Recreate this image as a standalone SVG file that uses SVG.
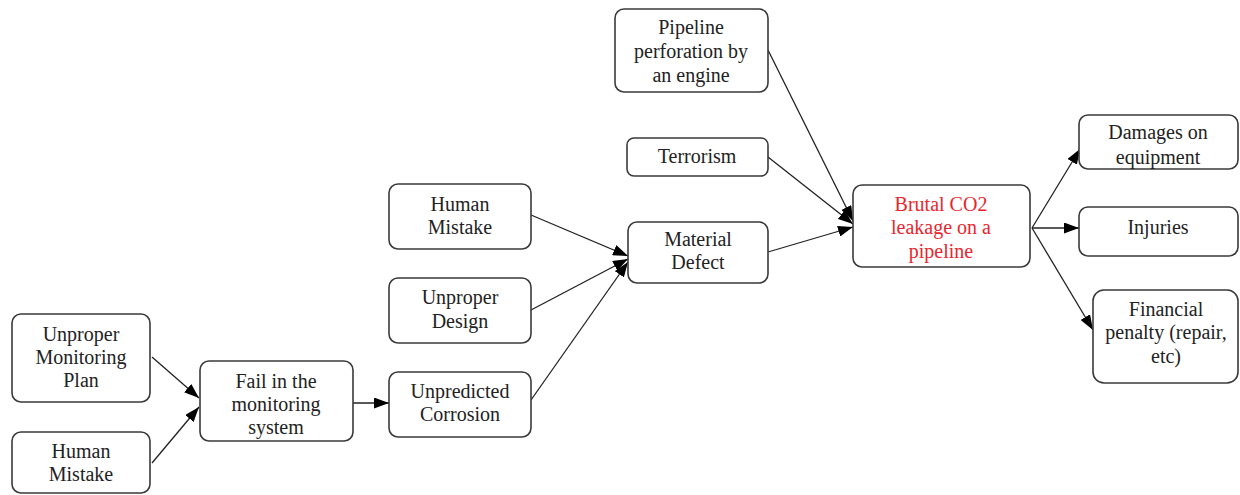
<svg xmlns="http://www.w3.org/2000/svg" width="1240" height="495" viewBox="0 0 1240 495">
<style>
.box{fill:#fff;stroke:#3a3a3a;stroke-width:1.6}
.t{font-family:"Liberation Serif","Times New Roman",serif;font-size:20px;fill:#222;text-anchor:middle}
.red{fill:#e8262e}
.c{stroke:#222;stroke-width:1.3;fill:none;marker-end:url(#ah)}
</style>
<defs>
<marker id="ah" markerUnits="userSpaceOnUse" markerWidth="15" markerHeight="11" refX="15" refY="5.5" orient="auto">
<path d="M0,0 L15,5.5 L0,11 z" fill="#000"/>
</marker>
</defs>
<rect width="1240" height="495" fill="#fff"/>
<g id="connectors">
<line class="c" x1="152" y1="357" x2="199" y2="398"/>
<line class="c" x1="152" y1="463" x2="199" y2="407"/>
<line class="c" x1="353" y1="403" x2="389" y2="403"/>
<line class="c" x1="531" y1="215" x2="628" y2="256"/>
<line class="c" x1="531" y1="310" x2="628" y2="259"/>
<line class="c" x1="531" y1="400" x2="628" y2="262"/>
<line class="c" x1="768" y1="50" x2="853" y2="221"/>
<line class="c" x1="768" y1="157" x2="853" y2="224"/>
<line class="c" x1="768" y1="252" x2="853" y2="227"/>
<line class="c" x1="1032" y1="228" x2="1080" y2="149"/>
<line class="c" x1="1032" y1="228" x2="1079" y2="228"/>
<line class="c" x1="1032" y1="228" x2="1093" y2="330"/>
</g>
<g id="n_ump"><rect class="box" x="12" y="314" width="138" height="88" rx="9"/>
<text class="t" x="81" y="341">Unproper</text><text class="t" x="81" y="364">Monitoring</text><text class="t" x="81" y="387">Plan</text></g>
<g id="n_hm1"><rect class="box" x="12" y="432" width="138" height="61" rx="9"/>
<text class="t" x="81" y="458">Human</text><text class="t" x="81" y="481">Mistake</text></g>
<g id="n_fail"><rect class="box" x="200" y="361" width="153" height="80" rx="9"/>
<text class="t" x="276" y="388">Fail in the</text><text class="t" x="276" y="411">monitoring</text><text class="t" x="276" y="434">system</text></g>
<g id="n_hm2"><rect class="box" x="389" y="184" width="142" height="65" rx="9"/>
<text class="t" x="460" y="211">Human</text><text class="t" x="460" y="234">Mistake</text></g>
<g id="n_ud"><rect class="box" x="389" y="278" width="142" height="65" rx="9"/>
<text class="t" x="460" y="304">Unproper</text><text class="t" x="460" y="328">Design</text></g>
<g id="n_uc"><rect class="box" x="389" y="372" width="142" height="65" rx="9"/>
<text class="t" x="460" y="398">Unpredicted</text><text class="t" x="460" y="421">Corrosion</text></g>
<g id="n_md"><rect class="box" x="628" y="222" width="140" height="61" rx="9"/>
<text class="t" x="698" y="246">Material</text><text class="t" x="698" y="269">Defect</text></g>
<g id="n_pp"><rect class="box" x="615" y="9" width="153" height="83" rx="9"/>
<text class="t" x="691" y="34">Pipeline</text><text class="t" x="691" y="58">perforation by</text><text class="t" x="691" y="82">an engine</text></g>
<g id="n_ter"><rect class="box" x="627" y="138" width="141" height="38" rx="7"/>
<text class="t" x="697" y="163">Terrorism</text></g>
<g id="n_co2"><rect class="box" x="853" y="185" width="177" height="82" rx="9"/>
<text class="t red" x="941" y="211">Brutal CO2</text><text class="t red" x="941" y="234">leakage on a</text><text class="t red" x="941" y="258">pipeline</text></g>
<g id="n_dmg"><rect class="box" x="1079" y="115" width="159" height="54" rx="9"/>
<text class="t" x="1158" y="139">Damages on</text><text class="t" x="1158" y="164">equipment</text></g>
<g id="n_inj"><rect class="box" x="1079" y="207" width="159" height="49" rx="9"/>
<text class="t" x="1158" y="234">Injuries</text></g>
<g id="n_fin"><rect class="box" x="1093" y="290" width="145" height="93" rx="11"/>
<text class="t" x="1166" y="316">Financial</text><text class="t" x="1166" y="339">penalty (repair,</text><text class="t" x="1166" y="363">etc)</text></g>
</svg>
